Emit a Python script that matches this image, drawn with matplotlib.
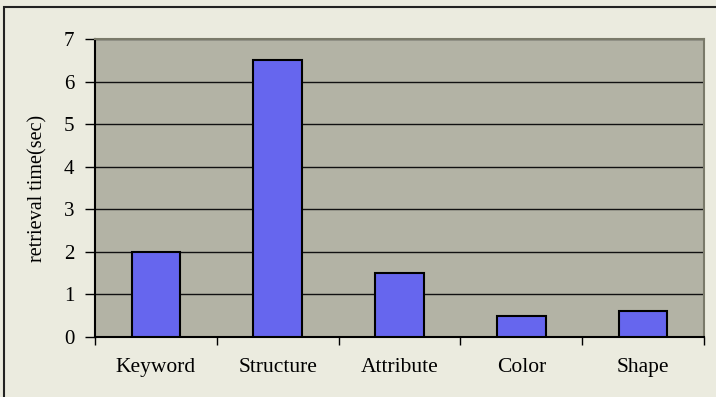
import matplotlib
matplotlib.use("Agg")
import matplotlib.pyplot as plt
from matplotlib.patches import Rectangle

categories = ["Keyword", "Structure", "Attribute", "Color", "Shape"]
values = [2.0, 6.5, 1.5, 0.5, 0.6]
yticks = [0, 1, 2, 3, 4, 5, 6, 7]

plt.rcParams['font.family'] = ['Liberation Serif', 'DejaVu Serif']

W, H = 716, 397
fig = plt.figure(figsize=(W / 100, H / 100), dpi=100)
fig.patch.set_facecolor('#ebebdf')

# outer frame
fig.add_artist(Rectangle((4 / W, -0.05), 2.0, (H - 7) / H + 0.05, transform=fig.transFigure,
                         fill=False, edgecolor='#222222', linewidth=1.5))

left, right, top, bottom = 95, 704, 39, 337
ax = fig.add_axes([left / W, 1 - bottom / H, (right - left) / W, (bottom - top) / H])
ax.set_facecolor('#b3b3a5')

x = list(range(len(categories)))
ax.bar(x, values, width=0.4, color='#6666ee', edgecolor='black', linewidth=1.5, zorder=3)

ax.set_xlim(-0.5, len(categories) - 0.5)
ax.set_ylim(0, 7)
ax.set_yticks(yticks)
ax.set_yticklabels([str(t) for t in yticks], fontsize=15)
ax.yaxis.grid(True, color='#111111', linewidth=1.0, zorder=1)
ax.set_axisbelow(True)

ax.set_xticks([i - 0.5 for i in range(len(categories) + 1)])
ax.set_xticklabels([])
ax.set_xticks(x, minor=True)
ax.set_xticklabels(categories, minor=True, fontsize=15.5)
ax.tick_params(axis='x', which='minor', length=0, pad=15)
ax.tick_params(axis='x', which='major', direction='out', length=6, width=1, color='black')
ax.tick_params(axis='y', direction='out', length=7, width=1, pad=8, color='black')

ax.spines['left'].set_color('black')
ax.spines['bottom'].set_color('black')
ax.spines['top'].set_color('#7a7a6a')
ax.spines['right'].set_color('#7a7a6a')
for s in ax.spines.values():
    s.set_linewidth(1.5)

ax.set_ylabel('retrieval time(sec)', fontsize=14.5, labelpad=12)

fig.savefig('out.png', dpi=100, facecolor=fig.get_facecolor())
